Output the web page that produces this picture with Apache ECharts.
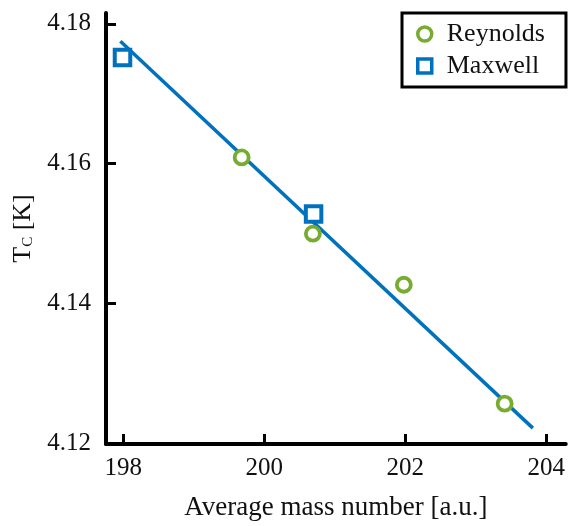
<!DOCTYPE html>
<html>
<head>
<meta charset="utf-8">
<script src="https://cdn.jsdelivr.net/npm/echarts@6/dist/echarts.min.js"></script>
<style>html,body{margin:0;padding:0;background:#fff}#c{width:568px;height:526px}</style>
</head>
<body>
<div id="c"></div>
<script>
// Data
const reynoldsX = [199.68, 200.69, 201.98, 203.41];
const reynoldsY = [4.1609, 4.1500, 4.1427, 4.1257];
const maxwellX = [197.99, 200.70];
const maxwellY = [4.1752, 4.1528];
const fitX = [197.96, 203.81];
const fitY = [4.1775, 4.1222];
const xTicks = [198, 200, 202, 204];
const yTicks = [4.12, 4.14, 4.16, 4.18];

const FONT = 'Liberation Serif';
const BLUE = '#0072BD';
const GREEN = '#77AC30';
const TXT = '#111';

const zip = (a, b) => a.map((v, i) => [v, b[i]]);

const chart = echarts.init(document.getElementById('c'), null, {renderer: 'canvas'});
chart.setOption({
  backgroundColor: '#fff',
  animation: false,
  grid: {left: 106, top: 13, right: 0, bottom: 77, containLabel: false},
  legend: {
    orient: 'vertical',
    left: 402, top: 13,
    data: [
      {name: 'Reynolds', itemStyle: {color: '#fff', borderColor: GREEN, borderWidth: 3.5, opacity: 1}},
      {name: 'Maxwell', itemStyle: {color: '#fff', borderColor: BLUE, borderWidth: 3.5, opacity: 1}}
    ],
    borderColor: '#000', borderWidth: 3,
    padding: [8, 21, 8, 14],
    itemGap: 6,
    itemWidth: 14, itemHeight: 14,
    textStyle: {fontFamily: FONT, fontSize: 26, color: TXT, lineHeight: 26, padding: [0, 0, 0, 10]}
  },
  xAxis: {
    type: 'value',
    min: 197.756, max: 204.277,
    splitLine: {show: false},
    axisLine: {show: true, onZero: false, lineStyle: {color: '#000', width: 4}},
    axisTick: {show: true, inside: true, length: 10, customValues: xTicks, lineStyle: {color: '#000', width: 3}},
    axisLabel: {customValues: xTicks, fontFamily: FONT, fontSize: 25, color: TXT, margin: 12},
    name: 'Average mass number [a.u.]',
    nameLocation: 'middle', nameGap: 50,
    nameTextStyle: {fontFamily: FONT, fontSize: 27, color: TXT}
  },
  yAxis: {
    type: 'value',
    min: 4.11993, max: 4.18155,
    splitLine: {show: false},
    axisLine: {show: true, onZero: false, lineStyle: {color: '#000', width: 4}},
    axisTick: {show: true, inside: true, length: 10, customValues: yTicks, lineStyle: {color: '#000', width: 3}},
    axisLabel: {customValues: yTicks, fontFamily: FONT, fontSize: 25, color: TXT, margin: 15,
      formatter: v => v.toFixed(2)},
    name: '{t|T}{s|C} {t|[K]}',
    nameLocation: 'middle', nameGap: 70, nameRotate: 90,
    nameTextStyle: {fontFamily: FONT, fontSize: 26, color: TXT,
      rich: {t: {fontFamily: FONT, fontSize: 26, color: TXT},
             s: {fontFamily: FONT, fontSize: 15, color: TXT, verticalAlign: 'bottom', padding: [10, 0, 0, 0]}}}
  },
  series: [
    {
      type: 'line', name: 'fit', data: zip(fitX, fitY), symbol: 'none',
      lineStyle: {color: BLUE, width: 3.5}, z: 1
    },
    {
      type: 'scatter', name: 'Reynolds', data: zip(reynoldsX, reynoldsY),
      symbol: 'circle', symbolSize: 14,
      itemStyle: {color: '#fff', borderColor: GREEN, borderWidth: 3.8, opacity: 1}, z: 3
    },
    {
      type: 'scatter', name: 'Maxwell', data: zip(maxwellX, maxwellY),
      symbol: 'rect', symbolSize: 15.5,
      itemStyle: {color: '#fff', borderColor: BLUE, borderWidth: 4, opacity: 1}, z: 3
    }
  ]
});
</script>
</body>
</html>
